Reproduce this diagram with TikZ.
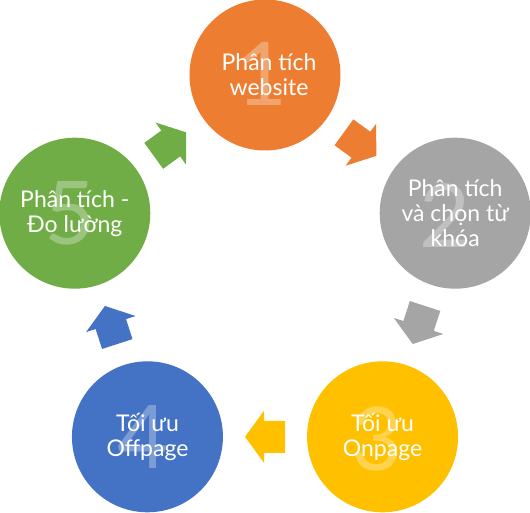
\documentclass[tikz,border=0pt]{standalone}
\usepackage{fontspec}
\setmainfont{Lato}
\newfontfamily\lightfont{Lato Light}
\usetikzlibrary{calc}
\definecolor{cOrange}{HTML}{ED7D31}
\definecolor{cGray}{HTML}{A5A5A5}
\definecolor{cYellow}{HTML}{FFC000}
\definecolor{cBlue}{HTML}{4472C4}
\definecolor{cGreen}{HTML}{70AD47}
\tikzset{
  stepcircle/.style={circle, minimum size=151pt, inner sep=0pt, draw=none},
  steptext/.style={text=white, align=center, font=\fontsize{23}{25}\selectfont},
  stepnum/.style={text=white, text opacity=0.3, font=\fontsize{88}{88}\selectfont},
  blockarrow/.pic={
    \fill[pic actions] (20,0) -- (1,26) -- (1,16) -- (-20,16) -- (-20,-16) -- (1,-16) -- (1,-26) -- cycle;
  }
}
\begin{document}
\begin{tikzpicture}[x=1pt,y=1pt]
\useasboundingbox (0,0) rectangle (530,512);
\coordinate (ctr) at (265,237);
% circles
\foreach \i/\ang/\col in {1/90/cOrange,2/18/cGray,3/-54/cYellow,4/-126/cBlue,5/162/cGreen}{
  \node[stepcircle, fill=\col] (c\i) at ($(ctr)+(\ang:200)$) {};
}
% numbers
\node[stepnum] (n1) at ([xshift=-3pt,yshift=1pt]c1.center) {1};
\node[stepnum] (n2) at ([xshift=-10pt,yshift=-2pt]c2.center) {2};
\node[stepnum] (n3) at ([xshift=-6pt,yshift=-2pt]c3.center) {3};
\node[stepnum] (n4) at ([xshift=-4pt]c4.center) {4};
\node[stepnum] (n5) at ([xshift=-5pt]c5.center) {5};
% texts
\node[steptext] (t1) at ([xshift=4pt]c1.center) {Phân tích\\website};
\node[steptext] (t2) at (c2.center) {Phân tích\\và chọn từ\\khóa};
\node[steptext] (t3) at (c3.center) {Tối ưu\\Onpage};
\node[steptext] (t4) at (c4.center) {Tối ưu\\Offpage};
\node[steptext] (t5) at (c5.center) {Phân tích -\\Đo lường};
% arrows
\path ($(c1)!0.5!(c2)$) pic[fill=cOrange, rotate=-36] {blockarrow};
\path ($(c2)!0.5!(c3)$) pic[fill=cGray, rotate=-108] {blockarrow};
\path ($(c3)!0.5!(c4)$) pic[fill=cYellow, rotate=180] {blockarrow};
\path ($(c4)!0.5!(c5)$) pic[fill=cBlue, rotate=108] {blockarrow};
\path ($(c5)!0.5!(c1)$) pic[fill=cGreen, rotate=36] {blockarrow};
\end{tikzpicture}
\end{document}
